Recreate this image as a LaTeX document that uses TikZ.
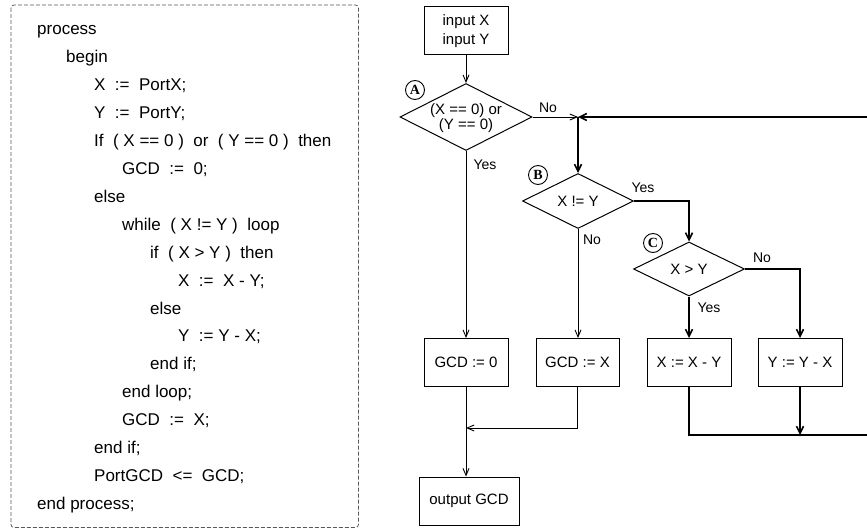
\documentclass[tikz,border=0pt]{standalone}
\usepackage{fontspec}
\setmainfont{Liberation Sans}
\newfontfamily\circfont{Liberation Serif}
\usetikzlibrary{arrows.meta,shapes.geometric}
\tikzset{
  codeline/.style={anchor=base west, inner sep=0pt, font=\fontsize{17}{20}\selectfont},
  fbox/.style={draw, line width=1pt, minimum width=84pt, minimum height=48pt, inner sep=0pt, font=\fontsize{15}{20}\selectfont, align=center},
  dia/.style={draw, diamond, line width=1pt, inner sep=0pt},
  diatext/.style={inner sep=0pt, font=\fontsize{15}{15}\selectfont, align=center},
  lbl/.style={inner sep=0pt, font=\fontsize{14}{16}\selectfont},
  circ/.style={draw, circle, line width=0.9pt, minimum size=19pt, inner sep=0pt, font=\circfont\bfseries\fontsize{14}{14}\selectfont},
  thin/.style={line width=0.9pt, -{Straight Barb[length=7pt,width=6pt]}},
  thick/.style={line width=2.6pt, -{Straight Barb[length=7pt,width=7pt,line width=1.6pt]}},
}
\begin{document}
\begin{tikzpicture}[x=1pt,y=-1pt]
\useasboundingbox (0,0) rectangle (867,529);
% code panel
\draw[draw=black!65, line width=0.8pt, dash pattern=on 4pt off 2pt, rounded corners=3pt] (11,5) rectangle (358.5,527.5);
\def\ls{27.9}
\node[codeline] (c0) at (37,{35+0*\ls}) {process};
\node[codeline] (c1) at (66,{35+1*\ls}) {begin};
\node[codeline] (c2) at (94,{35+2*\ls}) {X\ \ :=\ \ PortX;};
\node[codeline] (c3) at (94,{35+3*\ls}) {Y\ \ :=\ \ PortY;};
\node[codeline] (c4) at (94,{35+4*\ls}) {If\ \ ( X == 0 )\ \ or\ \ ( Y == 0 )\ \ then};
\node[codeline] (c5) at (122,{35+5*\ls}) {GCD\ \ :=\ \ 0;};
\node[codeline] (c6) at (94,{35+6*\ls}) {else};
\node[codeline] (c7) at (122,{35+7*\ls}) {while\ \ ( X != Y )\ \ loop};
\node[codeline] (c8) at (150,{35+8*\ls}) {if\ \ ( X > Y )\ \ then};
\node[codeline] (c9) at (178,{35+9*\ls}) {X\ \ :=\ \ X - Y;};
\node[codeline] (c10) at (150,{35+10*\ls}) {else};
\node[codeline] (c11) at (178,{35+11*\ls}) {Y\ \ := Y - X;};
\node[codeline] (c12) at (150,{35+12*\ls}) {end if;};
\node[codeline] (c13) at (122,{35+13*\ls}) {end loop;};
\node[codeline] (c14) at (122,{35+14*\ls}) {GCD\ \ :=\ \ X;};
\node[codeline] (c15) at (94,{35+15*\ls}) {end if;};
\node[codeline] (c16) at (94,{35+16*\ls}) {PortGCD\ \ <=\ \ GCD;};
\node[codeline] (c17) at (37,{35+17*\ls}) {end process;};
% flowchart nodes
\node[fbox] (inp) at (466,31) {input X\\[-1pt]input Y};
\node[dia, minimum width=132pt, minimum height=67pt] (A) at (466,117) {};
\node[diatext] (At) at (466,118) {(X == 0) or\\(Y == 0)};
\node[dia, minimum width=111pt, minimum height=55pt] (B) at (578,201) {};
\node[diatext] (Bt) at (578,201) {X != Y};
\node[dia, minimum width=111pt, minimum height=54pt] (C) at (689,269) {};
\node[diatext] (Ct) at (689,269) {X > Y};
\node[circ] (cA) at (415,90) {A};
\node[circ] (cB) at (538,175) {B};
\node[circ] (cC) at (653,243) {C};
\node[fbox] (g0) at (466,362.5) {GCD := 0};
\node[fbox, minimum width=83pt] (gx) at (577.5,362.5) {GCD := X};
\node[fbox] (xm) at (689,362.5) {X := X - Y};
\node[fbox] (ym) at (800,362.5) {Y := Y - X};
\node[fbox, minimum width=100pt] (out) at (469,501) {output GCD};
% labels
\node[lbl] (lA1) at (548,108) {No};
\node[lbl] (lA2) at (485,165) {Yes};
\node[lbl] (lB1) at (643,188) {Yes};
\node[lbl] (lB2) at (592,240) {No};
\node[lbl] (lC1) at (762,258) {No};
\node[lbl] (lC2) at (709,308) {Yes};
% junctions
\coordinate (J1) at (578,117);
\coordinate (J2) at (466,428);
\coordinate (J3) at (800,435);
\coordinate (R1) at (875,435);
\coordinate (R2) at (875,117);
% connectors
\draw[thin] (inp.south) -- (A.north);
\draw[thin] (A.east) -- (J1);
\draw[thin] (A.south) -- (g0.north);
\draw[thin] (B.south) -- (gx.north -| B.south);
\draw[thin] (g0.south) -- (g0.south |- out.north);
\draw[thin] (gx.south) -- (gx.south |- J2) -- (J2);
\draw[thick] (J1) -- (B.north);
\draw[thick] (B.east) -| (C.north);
\draw[thick] (C.south) -- (xm.north);
\draw[thick] (C.east) -| (ym.north);
\draw[thick] (xm.south) -- (xm.south |- J3) -- (R1) -- (R2) -- (J1);
\draw[thick] (ym.south) -- (J3);
\end{tikzpicture}
\end{document}
